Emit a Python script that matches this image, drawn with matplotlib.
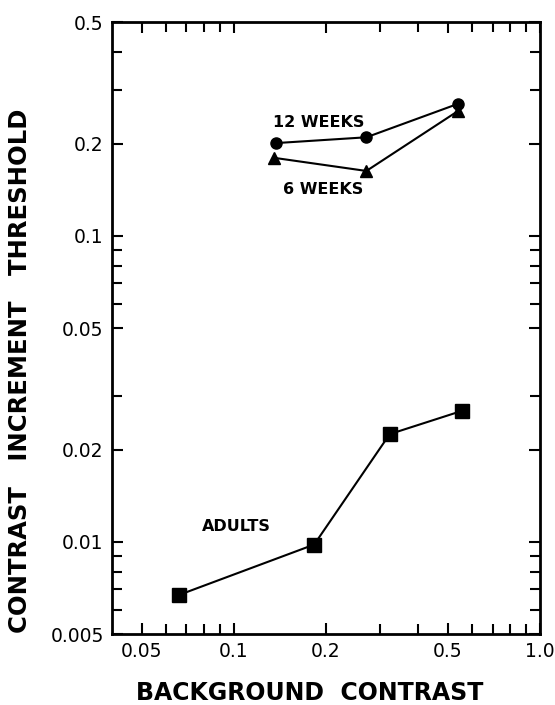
import matplotlib.pyplot as plt
from matplotlib.ticker import FixedLocator, FixedFormatter, NullFormatter

# values (log-log axes)
bg_12wk = [0.137, 0.271, 0.539]
thr_12wk = [0.201, 0.210, 0.270]
bg_6wk = [0.135, 0.271, 0.540]
thr_6wk = [0.180, 0.163, 0.256]
bg_adult = [0.066, 0.183, 0.323, 0.556]
thr_adult = [0.0067, 0.0098, 0.0225, 0.0268]

x_major = [0.05, 0.1, 0.2, 0.5, 1.0]
x_labels = ['0.05', '0.1', '0.2', '0.5', '1.0']
x_minor = [0.06, 0.07, 0.08, 0.09, 0.3, 0.4, 0.6, 0.7, 0.8, 0.9]
y_major = [0.005, 0.01, 0.02, 0.05, 0.1, 0.2, 0.5]
y_labels = ['0.005', '0.01', '0.02', '0.05', '0.1', '0.2', '0.5']
y_minor = [0.006, 0.007, 0.008, 0.009, 0.03, 0.06, 0.07, 0.08, 0.09, 0.3, 0.4]

plt.rcParams['font.family'] = 'DejaVu Sans'

fig = plt.figure(figsize=(5.55, 7.05), dpi=100)
ax = fig.add_axes([112 / 555, 1 - 634 / 705, 428 / 555, 612 / 705])

ax.set_xscale('log')
ax.set_yscale('log')
ax.set_xlim(0.04, 1.0)
ax.set_ylim(0.005, 0.5)

ax.plot(bg_6wk, thr_6wk, color='black', lw=1.5, marker='^', ms=9, zorder=3)
ax.plot(bg_12wk, thr_12wk, color='black', lw=1.5, marker='o', ms=8, zorder=4)
ax.plot(bg_adult, thr_adult, color='black', lw=1.5, marker='s', ms=10, zorder=3)

ax.text(0.19, 0.235, '12 WEEKS', fontsize=11.5, fontweight='bold', ha='center', va='center')
ax.text(0.195, 0.142, '6 WEEKS', fontsize=11.5, fontweight='bold', ha='center', va='center')
ax.text(0.102, 0.0112, 'ADULTS', fontsize=11.5, fontweight='bold', ha='center', va='center')

ax.xaxis.set_major_locator(FixedLocator(x_major))
ax.xaxis.set_major_formatter(FixedFormatter(x_labels))
ax.xaxis.set_minor_locator(FixedLocator(x_minor))
ax.xaxis.set_minor_formatter(NullFormatter())
ax.yaxis.set_major_locator(FixedLocator(y_major))
ax.yaxis.set_major_formatter(FixedFormatter(y_labels))
ax.yaxis.set_minor_locator(FixedLocator(y_minor))
ax.yaxis.set_minor_formatter(NullFormatter())

ax.tick_params(which='both', direction='in', top=True, right=True, width=1.5, color='black')
ax.tick_params(which='major', length=8, labelsize=13.5, pad=6)
ax.tick_params(which='minor', length=7)

for sp in ax.spines.values():
    sp.set_linewidth(2)

fig.text(310 / 555, 1 - 693 / 705, 'BACKGROUND  CONTRAST', fontsize=17, fontweight='bold',
         ha='center', va='center')
fig.text(20 / 555, 1 - 371 / 705, 'CONTRAST   INCREMENT   THRESHOLD', fontsize=17.5, fontweight='bold',
         ha='center', va='center', rotation=90)

fig.savefig('out.png', dpi=100)
